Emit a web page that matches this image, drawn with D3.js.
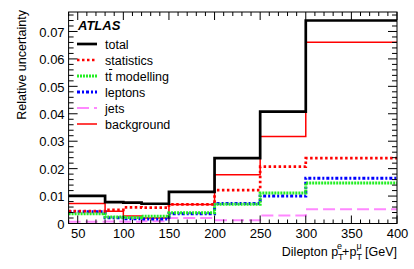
<!DOCTYPE html>
<html><head><meta charset="utf-8">
<script src="https://cdn.jsdelivr.net/npm/d3@7"></script>
<style>
html,body{margin:0;padding:0;background:#fff;}
text{font-family:"Liberation Sans",Arial,Helvetica,sans-serif;fill:#000;}
</style></head>
<body><svg id="c" width="414" height="269"></svg>
<script>
const binEdges = [40, 80, 100, 120, 150, 200, 250, 300, 400];
const total      = [0.0101, 0.0078, 0.0076, 0.0072, 0.0115, 0.0238, 0.0408, 0.0740];
const statistics = [0.0045, 0.0050, 0.0059, 0.0058, 0.0070, 0.0122, 0.0207, 0.0238];
const ttModel    = [0.0036, 0.0024, 0.0022, 0.0026, 0.0039, 0.0070, 0.0111, 0.0148];
const leptons    = [0.0043, 0.0021, 0.0017, 0.0016, 0.0036, 0.0073, 0.0100, 0.0165];
const jets       = [0.0006, 0.0007, 0.0006, 0.0008, 0.0020, 0.0012, 0.0029, 0.0052];
const background = [0.0073, 0.0045, 0.0027, 0.0020, 0.0069, 0.0178, 0.0317, 0.0661];
const xTicks = [50, 100, 150, 200, 250, 300, 350, 400];
const yTicks = [0, 0.01, 0.02, 0.03, 0.04, 0.05, 0.06, 0.07];
const legendLabels = ["total", "statistics", "tt modelling", "leptons", "jets", "background"];

const svg = d3.select("#c");
const L = 68.6, R = 397, T = 12, B = 223.5;
const x = d3.scaleLinear().domain([40, 400]).range([L, R]);
const y = d3.scaleLinear().domain([0, 0.0771]).range([B, T]);

const series = [
  {name:"background", v:background, color:"#ff0000", w:1.5, dash:null},
  {name:"jets", v:jets, color:"#ff88ff", w:2, dash:"12,5"},
  {name:"leptons", v:leptons, color:"#0000ff", w:3, dash:"3,2,2,2"},
  {name:"tt", v:ttModel, color:"#22ee22", w:3, dash:"2,1"},
  {name:"statistics", v:statistics, color:"#ff0000", w:2.7, dash:"2.5,2.5"},
  {name:"total", v:total, color:"#000000", w:2.7, dash:null}
];

const line = d3.line().x(d=>x(d[0])).y(d=>y(d[1])).curve(d3.curveStepAfter);
series.forEach(s=>{
  const pts = s.v.map((v,i)=>[binEdges[i], v]);
  pts.push([binEdges[binEdges.length-1], s.v[s.v.length-1]]);
  svg.append("path").attr("d", line(pts)).attr("fill","none")
    .attr("stroke", s.color).attr("stroke-width", s.w)
    .attr("stroke-dasharray", s.dash).attr("stroke-linejoin","miter").attr("stroke-linecap","butt");
});

// Frame
svg.append("rect").attr("x",L).attr("y",T).attr("width",R-L).attr("height",B-T)
  .attr("fill","none").attr("stroke","#000").attr("stroke-width",1);

// Axes with ticks
const xMinor = d3.range(40, 401, 10);
const yMinor = d3.range(0, 0.0771, 0.002);
const g = svg.append("g").attr("stroke","#000").attr("stroke-width",1);
xMinor.forEach(v=>{
  const major = v % 50 === 0;
  const len = major ? 8 : 4;
  g.append("line").attr("x1",x(v)).attr("x2",x(v)).attr("y1",B).attr("y2",B-len);
  g.append("line").attr("x1",x(v)).attr("x2",x(v)).attr("y1",T).attr("y2",T+len);
});
yMinor.forEach((v,i)=>{
  const major = i % 5 === 0;
  const len = major ? 9 : 5;
  g.append("line").attr("x1",L).attr("x2",L+len).attr("y1",y(v)).attr("y2",y(v));
  g.append("line").attr("x1",R).attr("x2",R-len).attr("y1",y(v)).attr("y2",y(v));
});

// Tick labels
const xAxis = d3.axisBottom(x).tickValues(xTicks).tickSize(0).tickPadding(0).tickFormat(d3.format("d"));
const xa = svg.append("g").attr("transform",`translate(0,${B})`).call(xAxis);
xa.select(".domain").remove();
xa.selectAll("text").attr("font-size",13).attr("dy",null).attr("y",14)
  .attr("font-family","Liberation Sans, Arial, sans-serif").attr("fill","#000");

const yAxis = d3.axisLeft(y).tickValues(yTicks).tickSize(0).tickPadding(0)
  .tickFormat(d=> d===0 ? "0" : d3.format(".2f")(d));
const ya = svg.append("g").attr("transform",`translate(${L-4},0)`).call(yAxis);
ya.select(".domain").remove();
ya.selectAll("text").attr("font-size",13).attr("dy","0.36em")
  .attr("font-family","Liberation Sans, Arial, sans-serif").attr("fill","#000");

// Axis titles
svg.append("text").attr("transform","translate(26,10) rotate(-90)")
  .attr("text-anchor","end").attr("font-size",12.5).text("Relative uncertainty");

const xt = svg.append("text").attr("x",R).attr("y",256).attr("text-anchor","end").attr("font-size",12.5);
xt.append("tspan").text("Dilepton p");
xt.append("tspan").attr("font-size",9).attr("dy",4).text("T");
xt.append("tspan").attr("font-size",9).attr("dx",-5.5).attr("dy",-11).text("e");
xt.append("tspan").attr("dy",7).text("+p");
xt.append("tspan").attr("font-size",9).attr("dy",4).text("T");
xt.append("tspan").attr("font-size",9).attr("dx",-5.5).attr("dy",-11).text("\u03bc");
xt.append("tspan").attr("dy",7).text(" [GeV]");

// Legend
svg.append("text").attr("x",78).attr("y",30).attr("font-size",13)
  .attr("font-weight","bold").attr("font-style","italic").text("ATLAS");
const legOrder = ["total","statistics","tt","leptons","jets","background"];
legOrder.forEach((n,i)=>{
  const s = series.find(d=>d.name===n);
  const yy = 44 + i*16;
  svg.append("line").attr("x1",77).attr("x2",97).attr("y1",yy).attr("y2",yy)
    .attr("stroke",s.color).attr("stroke-width",s.w).attr("stroke-dasharray",s.dash);
  const t = svg.append("text").attr("x",105).attr("y",yy+4.5).attr("font-size",12.5);
  if(n==="tt"){
    const a = t.append("tspan").text("t");
    const b = t.append("tspan").text("t");
    t.append("tspan").text(legendLabels[i].slice(2));
    const w1 = a.node().getComputedTextLength();
    const w2 = b.node().getComputedTextLength();
    svg.append("line").attr("x1",105+w1+0.5).attr("x2",105+w1+w2+0.3)
      .attr("y1",yy-6.5).attr("y2",yy-6.5).attr("stroke","#000").attr("stroke-width",1);
  } else {
    t.text(legendLabels[i]);
  }
});
</script></body></html>
